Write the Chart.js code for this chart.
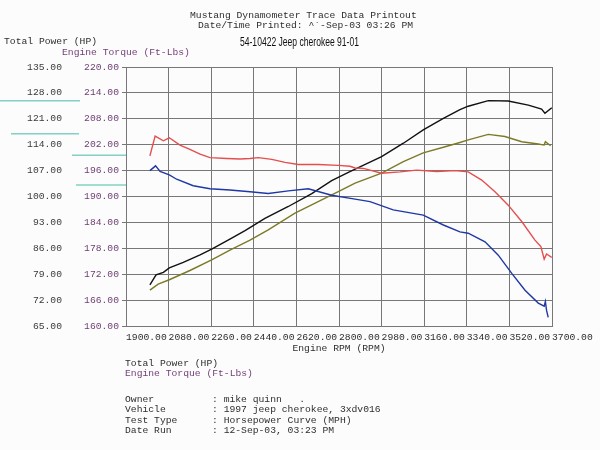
<!DOCTYPE html>
<html><head><meta charset="utf-8">
<script src="https://cdn.jsdelivr.net/npm/chart.js@4/dist/chart.umd.min.js"></script>
<style>
html,body{margin:0;padding:0;background:#fcfcfc;}
#wrap{position:relative;width:600px;height:450px;overflow:hidden;background:#fcfcfc;}
canvas{position:absolute;left:0;top:0;}
.t{position:absolute;white-space:pre;font-family:"Liberation Mono","Courier New",monospace;font-size:9.7px;line-height:12px;color:#2e2e2e;}
.p{color:#733f78;}
.h{position:absolute;white-space:pre;font-family:"Liberation Sans Narrow","Liberation Sans",Arial,sans-serif;font-size:13px;line-height:14px;color:#111;transform-origin:0 50%;}
</style></head><body>
<div id="wrap">
<canvas id="c" width="600" height="450"></canvas>
<div class="t" style="left:190px;top:9.7px">Mustang Dynamometer Trace Data Printout</div>
<div class="t" style="left:198px;top:19.7px">Date/Time Printed: ^`-Sep-03 03:26 PM</div>
<div class="h" id="hdr" style="left:240px;top:35.3px">54-10422 Jeep cherokee 91-01</div>
<div class="t" style="left:4px;top:35.7px">Total Power (HP)</div>
<div class="t p" style="left:62px;top:46.7px">Engine Torque (Ft-Lbs)</div>
<div class="t" style="left:125px;top:358px">Total Power (HP)</div>
<div class="t p" style="left:125px;top:368px">Engine Torque (Ft-Lbs)</div>
<div class="t" style="left:125px;top:394px">Owner</div>
<div class="t" style="left:125px;top:404.3px">Vehicle</div>
<div class="t" style="left:125px;top:414.6px">Test Type</div>
<div class="t" style="left:125px;top:424.9px">Date Run</div>
<div class="t" style="left:212px;top:394px">: mike quinn   .</div>
<div class="t" style="left:212px;top:404.3px">: 1997 jeep cherokee, 3xdv016</div>
<div class="t" style="left:212px;top:414.6px">: Horsepower Curve (MPH)</div>
<div class="t" style="left:212px;top:424.9px">: 12-Sep-03, 03:23 PM</div>
</div>
<script>
// Tick values
const rpmTicks = [1900, 2080, 2260, 2440, 2620, 2800, 2980, 3160, 3340, 3520, 3700];
const powerTicks = [65, 72, 79, 86, 93, 100, 107, 114, 121, 128, 135];
const torqueTicks = [160, 166, 172, 178, 184, 190, 196, 202, 208, 214, 220];

// Run 1 (black power / red torque)
const blackRpm = [2001,2027,2058,2083,2142,2213,2262,2339,2403,2487,2586,2685,2769,2846,2980,3072,3156,3241,3311,3346,3431,3515,3600,3656,3670,3699];
const blackPower = [76.1,78.8,79.5,80.7,82.2,84.2,85.8,88.5,90.8,94.1,97.3,100.8,104.3,106.7,110.8,114.4,118.0,121.1,123.5,124.4,125.9,125.8,124.7,123.6,122.5,124.0];
const redRpm = [2001,2023,2058,2083,2128,2170,2213,2255,2325,2382,2424,2459,2516,2572,2628,2712,2797,2846,2868,2903,2980,3058,3128,3213,3290,3346,3403,3459,3515,3572,3628,3653,3667,3677,3699];
const redTorque = [199.4,204.0,202.9,203.6,201.9,200.9,199.8,199.0,198.8,198.7,198.8,199.0,198.6,197.9,197.4,197.4,197.2,197.0,196.6,196.5,195.4,195.7,196.1,195.8,196.0,195.7,193.8,191.1,188.0,184.2,179.9,178.4,175.5,176.7,175.9];

// Run 2 (olive power / blue torque)
const oliveRpm = [2001,2036,2083,2170,2262,2339,2424,2501,2614,2712,2797,2868,2980,3072,3156,3241,3311,3346,3431,3501,3572,3642,3667,3672,3694];
const olivePower = [74.7,76.3,77.5,80.0,82.9,85.5,88.2,91.0,95.5,98.6,101.3,103.6,106.3,109.4,111.8,113.3,114.6,115.3,116.8,116.2,114.8,114.2,113.9,114.8,113.7];
const blueRpm = [2001,2025,2044,2083,2114,2184,2255,2339,2424,2501,2586,2670,2769,2868,2931,3029,3156,3241,3311,3346,3417,3473,3530,3586,3642,3667,3672,3677,3684];
const blueTorque = [196.0,197.1,195.8,195.0,194.0,192.5,191.8,191.5,191.1,190.7,191.3,191.8,190.3,189.4,188.8,186.9,185.7,183.4,181.8,181.5,179.5,176.4,172.2,168.3,165.3,164.6,165.7,163.6,162.0];

// fit header to its printed width
(function () {
  const h = document.getElementById('hdr');
  const w = h.getBoundingClientRect().width;
  if (w > 0) h.style.transform = 'scaleX(' + (119 / w) + ')';
})();

const pts = (xs, ys) => xs.map((x, i) => ({x: x, y: ys[i]}));
const MONO = '"Liberation Mono","Courier New",monospace';
const GRID = '#777777';

const bgPlugin = {
  id: 'bg',
  beforeDraw(chart) {
    const ctx = chart.ctx;
    ctx.save();
    ctx.fillStyle = '#fcfcfc';
    ctx.fillRect(0, 0, chart.width, chart.height);
    // highlighter marks on the printout
    ctx.strokeStyle = 'rgba(90,195,175,0.75)';
    ctx.lineWidth = 1.6;
    const marks = [[0,100.7,80,100.7],[11,133.7,79,133.7],[72,155.3,126,155.3],[76,185,126,185]];
    marks.forEach(m => { ctx.beginPath(); ctx.moveTo(m[0], m[1]); ctx.lineTo(m[2], m[3]); ctx.stroke(); });
    ctx.restore();
  }
};

const ds = (label, data, color, axis) => ({
  label, data, borderColor: color, backgroundColor: color, yAxisID: axis,
  borderWidth: 1.4, pointRadius: 0, tension: 0, fill: false
});

new Chart(document.getElementById('c'), {
  type: 'line',
  data: {
    datasets: [
      ds('Run 1 Torque', pts(redRpm, redTorque), '#e54e4e', 'torque'),
      ds('Run 2 Torque', pts(blueRpm, blueTorque), '#1f38a6', 'torque'),
      ds('Run 1 Power', pts(blackRpm, blackPower), '#111111', 'power'),
      ds('Run 2 Power', pts(oliveRpm, olivePower), '#7c7a26', 'power')
    ]
  },
  options: {
    responsive: false, animation: false, devicePixelRatio: 1,
    layout: {padding: {left: 0, right: 48, top: 67, bottom: 96}},
    plugins: {legend: {display: false}, title: {display: false}, tooltip: {enabled: false}},
    scales: {
      x: {
        type: 'linear', min: 1900, max: 3700,
        afterBuildTicks: a => { a.ticks = rpmTicks.map(v => ({value: v})); },
        afterFit: a => { a.height = 28; },
        grid: {color: GRID, lineWidth: 1, drawTicks: false},
        border: {color: GRID, width: 1},
        ticks: {align: 'start', autoSkip: false, maxRotation: 0, minRotation: 0, padding: 6,
          color: '#2e2e2e', font: {family: MONO, size: 9.7},
          callback: v => Number(v).toFixed(2)},
        title: {display: true, text: 'Engine RPM (RPM)', color: '#2e2e2e', padding: {top: 0, bottom: 0},
          font: {family: MONO, size: 9.7}}
      },
      power: {
        type: 'linear', position: 'left', weight: 1, min: 65, max: 135,
        afterBuildTicks: a => { a.ticks = powerTicks.map(v => ({value: v})); },
        afterFit: a => { a.width = 66; },
        grid: {display: false, drawTicks: false, drawOnChartArea: false},
        border: {display: false},
        ticks: {padding: 4, color: '#3a3a3a', font: {family: MONO, size: 9.7},
          callback: v => Number(v).toFixed(2)}
      },
      torque: {
        type: 'linear', position: 'left', weight: 0, min: 160, max: 220,
        afterBuildTicks: a => { a.ticks = torqueTicks.map(v => ({value: v})); },
        afterFit: a => { a.width = 60; },
        grid: {color: GRID, lineWidth: 1, drawTicks: true, tickLength: 4},
        border: {color: GRID, width: 1},
        ticks: {padding: 3, color: '#6e3f72', font: {family: MONO, size: 9.7},
          callback: v => Number(v).toFixed(2)}
      }
    }
  },
  plugins: [bgPlugin]
});
</script>
</body></html>
